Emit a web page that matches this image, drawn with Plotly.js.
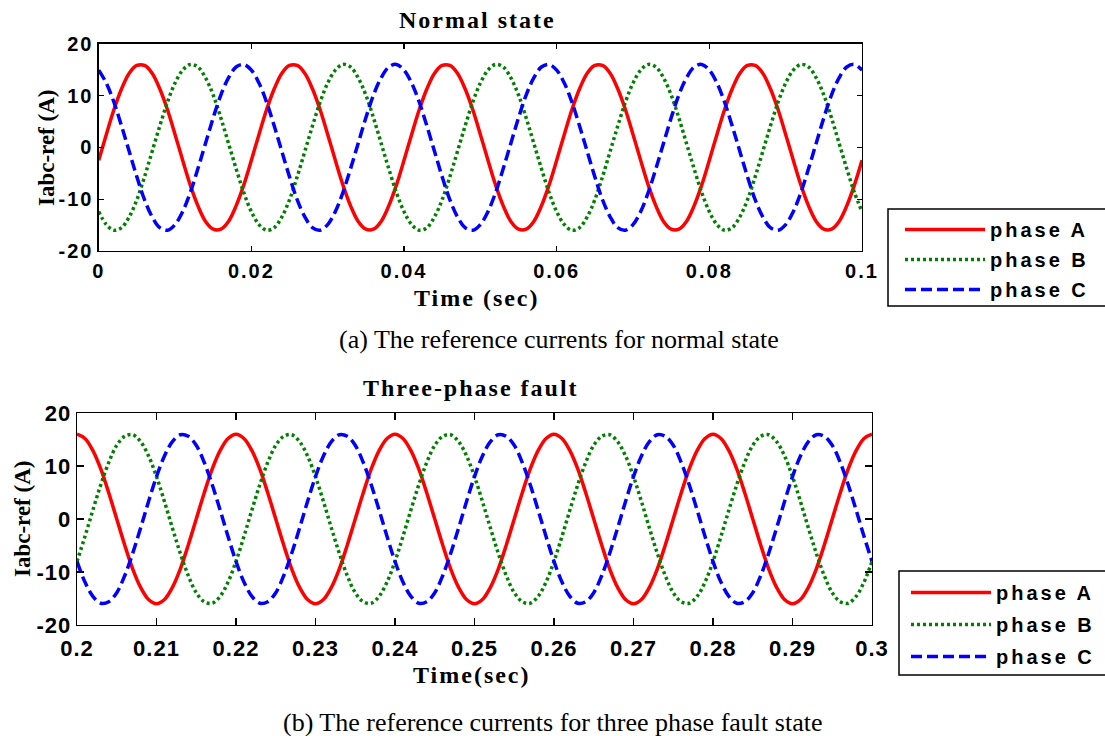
<!DOCTYPE html>
<html>
<head>
<meta charset="utf-8">
<script src="https://cdn.plot.ly/plotly-3.0.1.min.js"></script>
<style>
  html, body { margin: 0; padding: 0; background: #fff; }
  #chart { width: 1105px; height: 736px; }
  .xtick text, .ytick text { letter-spacing: 2px; }
  .x2tick text, .y2tick text { letter-spacing: 1px; }
  text.legendtext, .infolayer [class*="legend"] text { letter-spacing: 3px !important; }
  .annotation[data-index="0"] text, .annotation[data-index="1"] text,
  .annotation[data-index="4"] text, .annotation[data-index="5"] text { letter-spacing: 2px; }
</style>
</head>
<body>
<div id="chart"></div>
<script>
var tStartA = 0.0, tStartB = 0.2, tStep = 0.001, nSamples = 101;

var normalA = [
 -2.5, 2.5, 7.3, 11.3, 14.3, 15.8, 15.8, 14.3, 11.3, 7.3, 2.5, -2.5, -7.3, -11.3, -14.3, -15.8, -15.8, -14.3, -11.3, -7.3,
 -2.5, 2.5, 7.3, 11.3, 14.3, 15.8, 15.8, 14.3, 11.3, 7.3, 2.5, -2.5, -7.3, -11.3, -14.3, -15.8, -15.8, -14.3, -11.3, -7.3,
 -2.5, 2.5, 7.3, 11.3, 14.3, 15.8, 15.8, 14.3, 11.3, 7.3, 2.5, -2.5, -7.3, -11.3, -14.3, -15.8, -15.8, -14.3, -11.3, -7.3,
 -2.5, 2.5, 7.3, 11.3, 14.3, 15.8, 15.8, 14.3, 11.3, 7.3, 2.5, -2.5, -7.3, -11.3, -14.3, -15.8, -15.8, -14.3, -11.3, -7.3,
 -2.5, 2.5, 7.3, 11.3, 14.3, 15.8, 15.8, 14.3, 11.3, 7.3, 2.5, -2.5, -7.3, -11.3, -14.3, -15.8, -15.8, -14.3, -11.3, -7.3,
 -2.5];
var normalB = [
 -12.4, -14.9, -16.0, -15.5, -13.4, -10.1, -5.7, -0.8, 4.1, 8.7, 12.4, 14.9, 16.0, 15.5, 13.4, 10.1, 5.7, 0.8, -4.1, -8.7,
 -12.4, -14.9, -16.0, -15.5, -13.4, -10.1, -5.7, -0.8, 4.1, 8.7, 12.4, 14.9, 16.0, 15.5, 13.4, 10.1, 5.7, 0.8, -4.1, -8.7,
 -12.4, -14.9, -16.0, -15.5, -13.4, -10.1, -5.7, -0.8, 4.1, 8.7, 12.4, 14.9, 16.0, 15.5, 13.4, 10.1, 5.7, 0.8, -4.1, -8.7,
 -12.4, -14.9, -16.0, -15.5, -13.4, -10.1, -5.7, -0.8, 4.1, 8.7, 12.4, 14.9, 16.0, 15.5, 13.4, 10.1, 5.7, 0.8, -4.1, -8.7,
 -12.4, -14.9, -16.0, -15.5, -13.4, -10.1, -5.7, -0.8, 4.1, 8.7, 12.4, 14.9, 16.0, 15.5, 13.4, 10.1, 5.7, 0.8, -4.1, -8.7,
 -12.4];
var normalC = [
 14.9, 12.4, 8.7, 4.1, -0.8, -5.7, -10.1, -13.4, -15.5, -16.0, -14.9, -12.4, -8.7, -4.1, 0.8, 5.7, 10.1, 13.4, 15.5, 16.0,
 14.9, 12.4, 8.7, 4.1, -0.8, -5.7, -10.1, -13.4, -15.5, -16.0, -14.9, -12.4, -8.7, -4.1, 0.8, 5.7, 10.1, 13.4, 15.5, 16.0,
 14.9, 12.4, 8.7, 4.1, -0.8, -5.7, -10.1, -13.4, -15.5, -16.0, -14.9, -12.4, -8.7, -4.1, 0.8, 5.7, 10.1, 13.4, 15.5, 16.0,
 14.9, 12.4, 8.7, 4.1, -0.8, -5.7, -10.1, -13.4, -15.5, -16.0, -14.9, -12.4, -8.7, -4.1, 0.8, 5.7, 10.1, 13.4, 15.5, 16.0,
 14.9, 12.4, 8.7, 4.1, -0.8, -5.7, -10.1, -13.4, -15.5, -16.0, -14.9, -12.4, -8.7, -4.1, 0.8, 5.7, 10.1, 13.4, 15.5, 16.0,
 14.9];

var faultA = [
 16.0, 15.2, 12.9, 9.4, 4.9, 0.0, -4.9, -9.4, -12.9, -15.2, -16.0, -15.2, -12.9, -9.4, -4.9, 0.0, 4.9, 9.4, 12.9, 15.2,
 16.0, 15.2, 12.9, 9.4, 4.9, 0.0, -4.9, -9.4, -12.9, -15.2, -16.0, -15.2, -12.9, -9.4, -4.9, 0.0, 4.9, 9.4, 12.9, 15.2,
 16.0, 15.2, 12.9, 9.4, 4.9, 0.0, -4.9, -9.4, -12.9, -15.2, -16.0, -15.2, -12.9, -9.4, -4.9, 0.0, 4.9, 9.4, 12.9, 15.2,
 16.0, 15.2, 12.9, 9.4, 4.9, 0.0, -4.9, -9.4, -12.9, -15.2, -16.0, -15.2, -12.9, -9.4, -4.9, 0.0, 4.9, 9.4, 12.9, 15.2,
 16.0, 15.2, 12.9, 9.4, 4.9, 0.0, -4.9, -9.4, -12.9, -15.2, -16.0, -15.2, -12.9, -9.4, -4.9, 0.0, 4.9, 9.4, 12.9, 15.2,
 16.0];
var faultB = [
 -8.0, -3.3, 1.7, 6.5, 10.7, 13.9, 15.6, 15.9, 14.6, 11.9, 8.0, 3.3, -1.7, -6.5, -10.7, -13.9, -15.6, -15.9, -14.6, -11.9,
 -8.0, -3.3, 1.7, 6.5, 10.7, 13.9, 15.6, 15.9, 14.6, 11.9, 8.0, 3.3, -1.7, -6.5, -10.7, -13.9, -15.6, -15.9, -14.6, -11.9,
 -8.0, -3.3, 1.7, 6.5, 10.7, 13.9, 15.6, 15.9, 14.6, 11.9, 8.0, 3.3, -1.7, -6.5, -10.7, -13.9, -15.6, -15.9, -14.6, -11.9,
 -8.0, -3.3, 1.7, 6.5, 10.7, 13.9, 15.6, 15.9, 14.6, 11.9, 8.0, 3.3, -1.7, -6.5, -10.7, -13.9, -15.6, -15.9, -14.6, -11.9,
 -8.0, -3.3, 1.7, 6.5, 10.7, 13.9, 15.6, 15.9, 14.6, 11.9, 8.0, 3.3, -1.7, -6.5, -10.7, -13.9, -15.6, -15.9, -14.6, -11.9,
 -8.0];
var faultC = [
 -8.0, -11.9, -14.6, -15.9, -15.6, -13.9, -10.7, -6.5, -1.7, 3.3, 8.0, 11.9, 14.6, 15.9, 15.6, 13.9, 10.7, 6.5, 1.7, -3.3,
 -8.0, -11.9, -14.6, -15.9, -15.6, -13.9, -10.7, -6.5, -1.7, 3.3, 8.0, 11.9, 14.6, 15.9, 15.6, 13.9, 10.7, 6.5, 1.7, -3.3,
 -8.0, -11.9, -14.6, -15.9, -15.6, -13.9, -10.7, -6.5, -1.7, 3.3, 8.0, 11.9, 14.6, 15.9, 15.6, 13.9, 10.7, 6.5, 1.7, -3.3,
 -8.0, -11.9, -14.6, -15.9, -15.6, -13.9, -10.7, -6.5, -1.7, 3.3, 8.0, 11.9, 14.6, 15.9, 15.6, 13.9, 10.7, 6.5, 1.7, -3.3,
 -8.0, -11.9, -14.6, -15.9, -15.6, -13.9, -10.7, -6.5, -1.7, 3.3, 8.0, 11.9, 14.6, 15.9, 15.6, 13.9, 10.7, 6.5, 1.7, -3.3,
 -8.0];

var seriesNames = ["phase A", "phase B", "phase C"];
var yTickVals = [-20, -10, 0, 10, 20];
var yTickText = ["-20", "-10", "0", "10", "20"];
var xTickValsTop = [0, 0.02, 0.04, 0.06, 0.08, 0.1];
var xTickTextTop = ["0", "0.02", "0.04", "0.06", "0.08", "0.1"];
var xTickValsBot = [0.2, 0.21, 0.22, 0.23, 0.24, 0.25, 0.26, 0.27, 0.28, 0.29, 0.3];
var xTickTextBot = ["0.2", "0.21", "0.22", "0.23", "0.24", "0.25", "0.26", "0.27", "0.28", "0.29", "0.3"];

// time grids
var tTop = [], tBot = [];
for (var i = 0; i < nSamples; i++) {
  tTop.push(+(tStartA + i * tStep).toFixed(4));
  tBot.push(+(tStartB + i * tStep).toFixed(4));
}

// ---- styles ----
var lineStyles = [
  {color: "#ff0000", width: 3.5, dash: "solid"},
  {color: "#008000", width: 3.5, dash: "3px,3px"},
  {color: "#0000ff", width: 3.5, dash: "11px,5px"}
];
var groups = ["a", "b", "c"];

function mk(x, y, k, xa, ya, leg) {
  var ls = lineStyles[k];
  return {
    x: x, y: y, type: "scatter", mode: "lines", name: seriesNames[k],
    xaxis: xa, yaxis: ya, legend: leg, legendgroup: leg + groups[k],
    line: {color: ls.color, width: ls.width, dash: ls.dash, shape: "spline"}
  };
}

var traces = [
  mk(tTop, normalA, 0, "x", "y", "legend"),
  mk(tTop, normalB, 1, "x", "y", "legend"),
  mk(tTop, normalC, 2, "x", "y", "legend"),
  mk(tBot, faultA, 0, "x2", "y2", "legend2"),
  mk(tBot, faultB, 1, "x2", "y2", "legend2"),
  mk(tBot, faultC, 2, "x2", "y2", "legend2")
];

var tickFont = {family: "Liberation Sans, Arial, sans-serif", size: 20, color: "#000", weight: "bold"};
var tickFont2 = {family: "Liberation Sans, Arial, sans-serif", size: 22, color: "#000", weight: "bold"};
var serifBold = {family: "Liberation Serif, Times New Roman, serif", size: 24, color: "#000", weight: "bold"};
var serifReg = {family: "Liberation Serif, Times New Roman, serif", size: 26, color: "#000"};

function xAx(dom, anchor, rng, tv, tt, tl, f, so) {
  return {domain: dom, anchor: anchor, range: rng, tickmode: "array", tickvals: tv, ticktext: tt,
    ticks: "inside", ticklen: tl, tickwidth: 1.2, tickcolor: "#000", showline: true, linecolor: "#000",
    linewidth: 1.3, mirror: "ticks", showgrid: false, zeroline: false, tickfont: f, ticklabelstandoff: so,
    fixedrange: true};
}
function yAx(dom, anchor, tl, f) {
  return {domain: dom, anchor: anchor, range: [-20, 20], tickmode: "array", tickvals: yTickVals, ticktext: yTickText,
    ticks: "inside", ticklen: tl, tickwidth: 1.2, tickcolor: "#000", showline: true, linecolor: "#000",
    linewidth: 1.3, mirror: "ticks", showgrid: false, zeroline: false, tickfont: f, fixedrange: true};
}

function ann(text, x, y, font, angle) {
  return {text: text, x: x, y: y, xref: "paper", yref: "paper", xanchor: "center", yanchor: "middle",
    showarrow: false, font: font, textangle: angle || 0};
}
function box(x0, y0, x1, y1) {
  return {type: "rect", xref: "paper", yref: "paper", x0: x0 / W, x1: x1 / W, y0: 1 - y1 / H, y1: 1 - y0 / H,
    line: {color: "#000", width: 1.5}, fillcolor: "#fff", layer: "above"};
}

var W = 1105, H = 736;
var legendBase = {xanchor: "left", yanchor: "top", xref: "paper", yref: "paper",
  borderwidth: 0, bgcolor: "rgba(0,0,0,0)", font: tickFont, itemwidth: 80};
var layout = {
  width: W, height: H,
  margin: {l: 0, r: 0, t: 0, b: 0, autoexpand: false},
  paper_bgcolor: "#fff", plot_bgcolor: "#fff",
  showlegend: true,
  xaxis: xAx([98.7 / W, 862 / W], "y", [0, 0.1], xTickValsTop, xTickTextTop, 5, tickFont, 2),
  yaxis: yAx([1 - 251 / H, 1 - 43.7 / H], "x", 5, tickFont),
  xaxis2: xAx([77 / W, 872 / W], "y2", [0.2, 0.3], xTickValsBot, xTickTextBot, 7, tickFont2, 3),
  yaxis2: yAx([1 - 625 / H, 1 - 413 / H], "x2", 7, tickFont2),
  legend: Object.assign({}, legendBase, {x: 900 / W, y: 1 - 210 / H, tracegroupgap: 1}),
  legend2: Object.assign({}, legendBase, {x: 906 / W, y: 1 - 573 / H, tracegroupgap: 3}),
  shapes: [box(888, 209, 1112, 306), box(899, 571, 1112, 675)],
  annotations: [
    ann("Normal state", 477 / W, 1 - 20 / H, serifBold),
    ann("Time (sec)", 477 / W, 1 - 298 / H, serifBold),
    ann("Iabc-ref (A)", 46 / W, 1 - 148 / H, {family: serifBold.family, size: 23, color: "#000", weight: "bold"}, -90),
    ann("(a) The reference currents for normal state", 559 / W, 1 - 340 / H, serifReg),
    ann("Three-phase fault", 471 / W, 1 - 388 / H, serifBold),
    ann("Time(sec)", 472 / W, 1 - 675 / H, serifBold),
    ann("Iabc-ref (A)", 22 / W, 1 - 519 / H, {family: serifBold.family, size: 23, color: "#000", weight: "bold"}, -90),
    ann("(b) The reference currents for three phase fault state", 552 / W, 1 - 722 / H, serifReg)
  ]
};

function spaceLegends() {
  document.querySelectorAll("#chart text").forEach(function (t) {
    if (/^phase [ABC]$/.test(t.textContent)) t.style.letterSpacing = "3px";
  });
}
Plotly.newPlot("chart", traces, layout, {staticPlot: true, displayModeBar: false}).then(function () {
  spaceLegends();
  setTimeout(spaceLegends, 0);
});
</script>
</body>
</html>
